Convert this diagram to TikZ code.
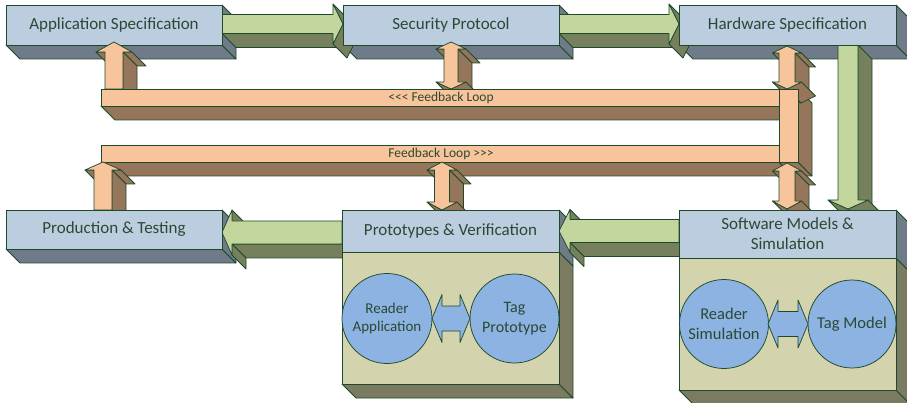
\documentclass[tikz,border=0pt]{standalone}
\usepackage{fontspec}
\setmainfont{Carlito}
\definecolor{outl}{HTML}{1E4A2C}
\definecolor{boxfr}{HTML}{BDCDE0}
\definecolor{boxsd}{HTML}{6F7B88}
\definecolor{grfr}{HTML}{C3D69E}
\definecolor{grsd}{HTML}{76805D}
\definecolor{pcfr}{HTML}{F8C49B}
\definecolor{pcsd}{HTML}{96765B}
\definecolor{bodyfr}{HTML}{D3D3AD}
\definecolor{bodysd}{HTML}{7B7B61}
\definecolor{circ}{HTML}{8DB3E2}
\definecolor{txt}{HTML}{2A4934}

% depth of the oblique extrusion (down and to the right)
\newcommand\extr{14}

% visible side faces of an extruded rectangle: x0,y0,x1,y1,colour
\newcommand\boxsides[5]{%
  \filldraw[edge,fill=#5] ({#1},{#4}) -- ({#3},{#4}) -- ({#3+\extr},{#4+\extr}) -- ({#1+\extr},{#4+\extr}) -- cycle;
  \filldraw[edge,fill=#5] ({#3},{#2}) -- ({#3+\extr},{#2+\extr}) -- ({#3+\extr},{#4+\extr}) -- ({#3},{#4}) -- cycle;}

% extruded right-pointing block arrow: tail x, tip x, centre y, shaft half, head half, head length
\newcommand\rarrow[6]{%
  \pgfmathsetmacro\hpos{#2-#6}%
  \filldraw[edge,fill=grsd] ({#1},{#3+#4}) -- ({\hpos},{#3+#4}) -- ({\hpos+\extr},{#3+#4+\extr}) -- ({#1+\extr},{#3+#4+\extr}) -- cycle;
  \filldraw[edge,fill=grsd] ({\hpos},{#3+#5}) -- ({#2},{#3}) -- ({#2+\extr},{#3+\extr}) -- ({\hpos+\extr},{#3+#5+\extr}) -- cycle;
  \filldraw[edge,fill=grsd] ({#2},{#3}) -- ({\hpos},{#3-#5}) -- ({\hpos+\extr},{#3-#5+\extr}) -- ({#2+\extr},{#3+\extr}) -- cycle;
  \filldraw[edge,fill=grfr] ({#1},{#3-#4}) -- ({\hpos},{#3-#4}) -- ({\hpos},{#3-#5}) -- ({#2},{#3}) -- ({\hpos},{#3+#5}) -- ({\hpos},{#3+#4}) -- ({#1},{#3+#4}) -- cycle;}

% extruded left-pointing block arrow: tail x, tip x, centre y, shaft half, head half, head length
\newcommand\larrow[6]{%
  \pgfmathsetmacro\hpos{#2+#6}%
  \filldraw[edge,fill=grsd] ({\hpos},{#3+#4}) -- ({#1},{#3+#4}) -- ({#1+\extr},{#3+#4+\extr}) -- ({\hpos+\extr},{#3+#4+\extr}) -- cycle;
  \filldraw[edge,fill=grsd] ({#1},{#3-#4}) -- ({#1},{#3+#4}) -- ({#1+\extr},{#3+#4+\extr}) -- ({#1+\extr},{#3-#4+\extr}) -- cycle;
  \filldraw[edge,fill=grsd] ({\hpos},{#3-#5}) -- ({\hpos},{#3-#4}) -- ({\hpos+\extr},{#3-#4+\extr}) -- ({\hpos+\extr},{#3-#5+\extr}) -- cycle;
  \filldraw[edge,fill=grsd] ({\hpos},{#3+#4}) -- ({\hpos},{#3+#5}) -- ({\hpos+\extr},{#3+#5+\extr}) -- ({\hpos+\extr},{#3+#4+\extr}) -- cycle;
  \filldraw[edge,fill=grfr] ({#1},{#3-#4}) -- ({\hpos},{#3-#4}) -- ({\hpos},{#3-#5}) -- ({#2},{#3}) -- ({\hpos},{#3+#5}) -- ({\hpos},{#3+#4}) -- ({#1},{#3+#4}) -- cycle;}

% extruded down-pointing block arrow: centre x, top y, tip y, shaft half, head half, head length
\newcommand\darrow[6]{%
  \pgfmathsetmacro\hpos{#3-#6}%
  \filldraw[edge,fill=grsd] ({#1+#4},{#2}) -- ({#1+#4+\extr},{#2+\extr}) -- ({#1+#4+\extr},{\hpos+\extr}) -- ({#1+#4},{\hpos}) -- cycle;
  \filldraw[edge,fill=grsd] ({#1},{#3}) -- ({#1-#5},{\hpos}) -- ({#1-#5+\extr},{\hpos+\extr}) -- ({#1+\extr},{#3+\extr}) -- cycle;
  \filldraw[edge,fill=grsd] ({#1+#5},{\hpos}) -- ({#1},{#3}) -- ({#1+\extr},{#3+\extr}) -- ({#1+#5+\extr},{\hpos+\extr}) -- cycle;
  \filldraw[edge,fill=grfr] ({#1-#4},{#2}) -- ({#1+#4},{#2}) -- ({#1+#4},{\hpos}) -- ({#1+#5},{\hpos}) -- ({#1},{#3}) -- ({#1-#5},{\hpos}) -- ({#1-#4},{\hpos}) -- cycle;}

% extruded up-pointing block arrow: centre x, base y, tip y, shaft half, head half, head length
\newcommand\uarrow[6]{%
  \pgfmathsetmacro\hpos{#3+#6}%
  \filldraw[edge,fill=pcsd] ({#1-#5},{\hpos}) -- ({#1-#4},{\hpos}) -- ({#1-#4+\extr},{\hpos+\extr}) -- ({#1-#5+\extr},{\hpos+\extr}) -- cycle;
  \filldraw[edge,fill=pcsd] ({#1+#4},{\hpos}) -- ({#1+#5},{\hpos}) -- ({#1+#5+\extr},{\hpos+\extr}) -- ({#1+#4+\extr},{\hpos+\extr}) -- cycle;
  \filldraw[edge,fill=pcsd] ({#1+#4},{\hpos}) -- ({#1+#4},{#2}) -- ({#1+#4+\extr},{#2+\extr}) -- ({#1+#4+\extr},{\hpos+\extr}) -- cycle;
  \filldraw[edge,fill=pcsd] ({#1-#4},{#2}) -- ({#1+#4},{#2}) -- ({#1+#4+\extr},{#2+\extr}) -- ({#1-#4+\extr},{#2+\extr}) -- cycle;
  \filldraw[edge,fill=pcfr] ({#1-#4},{#2}) -- ({#1-#4},{\hpos}) -- ({#1-#5},{\hpos}) -- ({#1},{#3}) -- ({#1+#5},{\hpos}) -- ({#1+#4},{\hpos}) -- ({#1+#4},{#2}) -- cycle;}

% extruded double-headed vertical block arrow: centre x, top tip y, bottom tip y, shaft half, head half, head length
\newcommand\udarrow[6]{%
  \pgfmathsetmacro\hpos{#2+#6}\pgfmathsetmacro\hposb{#3-#6}%
  \filldraw[edge,fill=pcsd] ({#1-#5},{\hpos}) -- ({#1-#4},{\hpos}) -- ({#1-#4+\extr},{\hpos+\extr}) -- ({#1-#5+\extr},{\hpos+\extr}) -- cycle;
  \filldraw[edge,fill=pcsd] ({#1+#4},{\hpos}) -- ({#1+#5},{\hpos}) -- ({#1+#5+\extr},{\hpos+\extr}) -- ({#1+#4+\extr},{\hpos+\extr}) -- cycle;
  \filldraw[edge,fill=pcsd] ({#1+#4},{\hpos}) -- ({#1+#4},{\hposb}) -- ({#1+#4+\extr},{\hposb+\extr}) -- ({#1+#4+\extr},{\hpos+\extr}) -- cycle;
  \filldraw[edge,fill=pcsd] ({#1},{#3}) -- ({#1-#5},{\hposb}) -- ({#1-#5+\extr},{\hposb+\extr}) -- ({#1+\extr},{#3+\extr}) -- cycle;
  \filldraw[edge,fill=pcsd] ({#1+#5},{\hposb}) -- ({#1},{#3}) -- ({#1+\extr},{#3+\extr}) -- ({#1+#5+\extr},{\hposb+\extr}) -- cycle;
  \filldraw[edge,fill=pcfr] ({#1},{#2}) -- ({#1+#5},{\hpos}) -- ({#1+#4},{\hpos}) -- ({#1+#4},{\hposb}) -- ({#1+#5},{\hposb}) -- ({#1},{#3}) -- ({#1-#5},{\hposb}) -- ({#1-#4},{\hposb}) -- ({#1-#4},{\hpos}) -- ({#1-#5},{\hpos}) -- cycle;}

% flat double-headed horizontal arrow: left tip x, right tip x, centre y, shaft half, head half, head length
\newcommand\hdarrow[6]{%
  \filldraw[edge,fill=circ] ({#1},{#3}) -- ({#1+#6},{#3-#5}) -- ({#1+#6},{#3-#4}) -- ({#2-#6},{#3-#4}) -- ({#2-#6},{#3-#5}) -- ({#2},{#3}) -- ({#2-#6},{#3+#5}) -- ({#2-#6},{#3+#4}) -- ({#1+#6},{#3+#4}) -- ({#1+#6},{#3+#5}) -- cycle;}

\begin{document}
\begin{tikzpicture}[x=1pt,y=-1pt,
  edge/.style={draw=outl,line width=0.75pt,line join=round},
  frontbox/.style={edge,fill=boxfr,rectangle,inner sep=0pt,text=txt,align=center,
    font=\fontsize{17}{20}\selectfont},
  fbtext/.style={text=txt,inner sep=0pt,font=\fontsize{13.5}{15}\selectfont},
  bubble/.style={edge,fill=circ,circle,inner sep=0pt,text=txt,align=center},
]
\useasboundingbox (0,0) rectangle (907,403);

% side faces of all blocks
\boxsides{6}{5}{222}{45}{boxsd}
\boxsides{343}{5}{559}{45}{boxsd}
\boxsides{679}{5}{896}{45}{boxsd}
\boxsides{6}{210}{222}{249}{boxsd}
\boxsides{342}{252}{559}{384}{bodysd}
\filldraw[edge,fill=boxsd] (559,210) -- (573,224) -- (573,266) -- (559,252) -- cycle;
\boxsides{679}{258}{896}{390}{bodysd}
\filldraw[edge,fill=boxsd] (896,210) -- (910,224) -- (910,272) -- (896,258) -- cycle;

% main flow arrows
\rarrow{222}{343}{24}{9.5}{20}{10}
\rarrow{559}{679}{24}{9.5}{20}{10}
\darrow{848}{45}{209}{10}{20}{9}
\larrow{679}{559}{231}{11.5}{21.5}{11}
\larrow{342}{222}{232.5}{11.5}{22.5}{10}

% top row blocks
\node[frontbox,minimum width=216pt,minimum height=40pt] (app) at (114,25) {Application Specification};
\node[frontbox,minimum width=216pt,minimum height=40pt] (sec) at (451,25) {Security Protocol};
\node[frontbox,minimum width=217pt,minimum height=40pt] (hw) at (787.5,25) {Hardware Specification};

% feedback loop bars: side faces first
\boxsides{101}{89}{779}{106}{pcsd}
\boxsides{101}{145}{779}{162}{pcsd}
\boxsides{779}{89}{798}{162}{pcsd}

% links between the top blocks and the feedback loop
\uarrow{114}{89}{42}{9}{18}{10}
\udarrow{451}{42}{89}{7}{15}{7}
\udarrow{787}{46}{89}{8}{14.5}{7}

% feedback loop bars: front faces
\filldraw[edge,fill=pcfr] (101,89) rectangle (779,106);
\filldraw[edge,fill=pcfr] (101,145) rectangle (779,162);
\filldraw[edge,fill=pcfr] (779,89) rectangle (798,162);
\node[fbtext] (fbback) at (441,98) {<\kern0pt<\kern0pt< Feedback Loop};
\node[fbtext] (fbfwd) at (441,153.5) {Feedback Loop >\kern0pt>\kern0pt>};

% links between the feedback loop and the bottom blocks
\uarrow{103}{210}{162}{9}{18}{8}
\udarrow{442}{162}{210}{7.5}{15}{8}
\udarrow{787}{163}{209}{8}{14.5}{8}

% bottom row blocks
\node[frontbox,minimum width=216pt,minimum height=39pt] (prod) at (114,229.5) {Production \& Testing};
\filldraw[edge,fill=bodyfr] (342,252) rectangle (559,384);
\node[frontbox,minimum width=217pt,minimum height=42pt] (proto) at (450.5,231) {Prototypes \& Verification};
\filldraw[edge,fill=bodyfr] (679,258) rectangle (896,390);
\node[frontbox,minimum width=217pt,minimum height=48pt] (soft) at (787.5,234) {Software Models \&\\Simulation};

% components inside the lower blocks
\node[bubble,minimum size=90pt,font=\fontsize{15}{18}\selectfont] (rapp) at (387,318.5) {Reader\\Application};
\node[bubble,minimum size=89pt,font=\fontsize{16}{20}\selectfont] (tagp) at (514.5,318.5) {Tag\\Prototype};
\hdarrow{432}{470}{318.5}{12.5}{24}{10}
\node[bubble,minimum size=89pt,font=\fontsize{16.5}{20}\selectfont] (rsim) at (724,324) {Reader\\Simulation};
\node[bubble,minimum size=88pt,font=\fontsize{16.5}{20}\selectfont] (tagm) at (852,324) {Tag Model};
\hdarrow{768}{808}{324}{12.5}{24}{10}
\end{tikzpicture}
\end{document}
